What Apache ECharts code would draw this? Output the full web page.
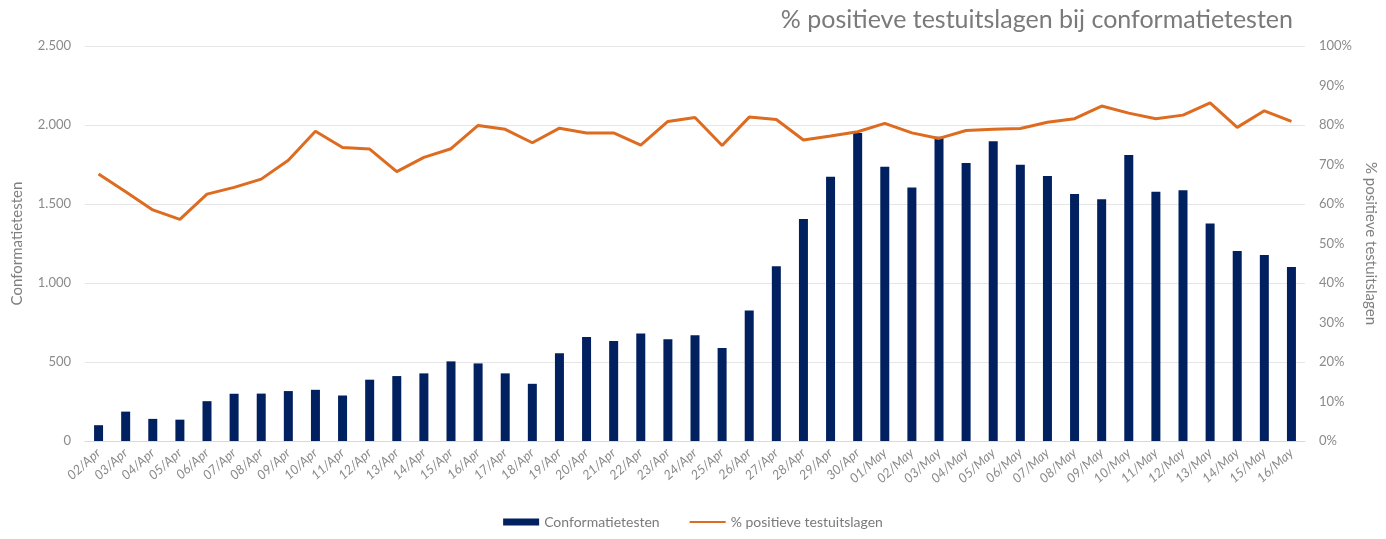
<!DOCTYPE html>
<html>
<head>
<meta charset="utf-8">
<script src="https://cdn.jsdelivr.net/npm/echarts@6/dist/echarts.min.js"></script>
<style>
  html, body { margin: 0; padding: 0; background: #fff; }
  #chart { width: 1386px; height: 539px; }
</style>
</head>
<body>
<div id="chart"></div>
<script>
// datums
var dagen = [
  '02/Apr','03/Apr','04/Apr','05/Apr','06/Apr','07/Apr','08/Apr','09/Apr','10/Apr','11/Apr',
  '12/Apr','13/Apr','14/Apr','15/Apr','16/Apr','17/Apr','18/Apr','19/Apr','20/Apr','21/Apr',
  '22/Apr','23/Apr','24/Apr','25/Apr','26/Apr','27/Apr','28/Apr','29/Apr','30/Apr','01/May',
  '02/May','03/May','04/May','05/May','06/May','07/May','08/May','09/May','10/May','11/May',
  '12/May','13/May','14/May','15/May','16/May'
];

// aantal conformatietesten (bars)
var testen = [
  100, 186, 140, 135, 252, 299, 300, 316, 324, 288,
  388, 411, 428, 504, 491, 428, 362, 555, 659, 633,
  680, 644, 669, 589, 826, 1106, 1405, 1673, 1950, 1736,
  1605, 1925, 1759, 1897, 1749, 1677, 1563, 1530, 1810, 1578,
  1587, 1377, 1203, 1177, 1101
];

// % positieve testuitslagen (lijn)
var positief = [
  67.6, 63.1, 58.5, 56.1, 62.5, 64.2, 66.3, 71.1, 78.4, 74.3,
  73.9, 68.2, 71.8, 74.0, 79.9, 78.9, 75.5, 79.2, 78.0, 78.0,
  74.9, 80.9, 81.9, 74.8, 82.0, 81.4, 76.2, 77.2, 78.3, 80.4,
  78.0, 76.6, 78.6, 78.9, 79.1, 80.7, 81.6, 84.8, 83.0, 81.6,
  82.5, 85.6, 79.4, 83.6, 80.9
];

var fontFam = 'Lato, "Noto Sans", sans-serif';
var grijs = '#7f7f7f';
// dunne lijn als legend-icoon (zelfde box als de bar-icoon)
var lijnIcoon = 'path://M0,0L0.01,0L0.01,0.01ZM0,2.5H36V4.5H0ZM35.99,7L36,7L36,6.99Z';

var chartDom = document.getElementById('chart');
var myChart = echarts.init(chartDom);
var option = {
  animation: false,
  textStyle: { fontFamily: fontFam },
  title: {
    text: '% positieve testuitslagen bij conformatietesten',
    right: 88,
    top: 2,
    textStyle: { fontFamily: fontFam, fontSize: 25, fontWeight: 'normal', color: '#7a7a7a' }
  },
  legend: {
    bottom: 5,
    left: 'center',
    itemGap: 30,
    itemWidth: 36,
    itemHeight: 7,
    textStyle: { fontFamily: fontFam, fontSize: 14, color: '#7a7a7a' },
    data: [
      { name: 'Conformatietesten', icon: 'rect' },
      { name: '% positieve testuitslagen', icon: lijnIcoon }
    ]
  },
  grid: { left: 85, right: 76, top: 46, bottom: 98 },
  xAxis: {
    type: 'category',
    data: dagen,
    axisLine: { lineStyle: { color: '#d9d9d9' } },
    axisTick: { show: false },
    axisLabel: {
      rotate: 42,
      interval: 0,
      color: '#8a8a8a',
      fontSize: 13,
      fontStyle: 'italic',
      margin: 10
    }
  },
  yAxis: [
    {
      type: 'value',
      name: 'Conformatietesten',
      nameLocation: 'middle',
      nameGap: 60,
      nameTextStyle: { fontSize: 15, color: grijs },
      min: 0,
      max: 2500,
      interval: 500,
      axisLine: { show: false },
      axisTick: { show: false },
      splitLine: { lineStyle: { color: '#e6e6e6' } },
      axisLabel: {
        color: '#8a8a8a',
        fontSize: 13,
        margin: 14,
        formatter: function (v) {
          return String(v).replace(/\B(?=(\d{3})+(?!\d))/g, '.');
        }
      }
    },
    {
      type: 'value',
      name: '% positieve testuitslagen',
      nameLocation: 'middle',
      nameGap: 58,
      nameRotate: -90,
      nameTextStyle: { fontSize: 15, color: grijs },
      min: 0,
      max: 100,
      interval: 10,
      axisLine: { show: false },
      axisTick: { show: false },
      splitLine: { show: false },
      axisLabel: { color: '#8a8a8a', fontSize: 13, margin: 14, formatter: '{value}%' }
    }
  ],
  series: [
    {
      name: 'Conformatietesten',
      type: 'bar',
      yAxisIndex: 0,
      barWidth: 9,
      itemStyle: { color: '#002060' },
      data: testen
    },
    {
      name: '% positieve testuitslagen',
      type: 'line',
      yAxisIndex: 1,
      symbol: 'none',
      lineStyle: { color: '#DD6B20', width: 3 },
      itemStyle: { color: '#DD6B20' },
      data: positief
    }
  ]
};
option && myChart.setOption(option);
window.addEventListener('resize', () => {
  myChart.resize();
});
</script>
</body>
</html>
